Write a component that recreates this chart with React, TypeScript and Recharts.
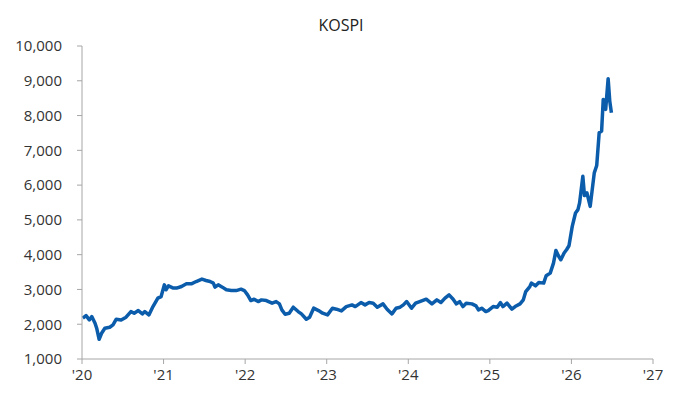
import { LineChart, Line, XAxis, YAxis } from 'recharts';

// time in decimal years, index level
const years = [
  2020.01, 2020.05, 2020.09, 2020.12, 2020.16, 2020.18, 2020.21, 2020.24, 2020.28, 2020.34,
  2020.38, 2020.42, 2020.48, 2020.54, 2020.6, 2020.64, 2020.69, 2020.74, 2020.77, 2020.82,
  2020.87, 2020.93, 2020.97, 2021.01, 2021.03, 2021.06, 2021.12, 2021.16, 2021.22, 2021.28,
  2021.34, 2021.4, 2021.47, 2021.52, 2021.57, 2021.61, 2021.63, 2021.67, 2021.72, 2021.77,
  2021.83, 2021.89, 2021.95, 2021.99, 2022.03, 2022.07, 2022.11, 2022.16, 2022.2, 2022.26,
  2022.33, 2022.38, 2022.42, 2022.45, 2022.49, 2022.54, 2022.59, 2022.65, 2022.69, 2022.75,
  2022.79, 2022.84, 2022.9, 2022.95, 2023.01, 2023.07, 2023.12, 2023.18, 2023.24, 2023.31,
  2023.35, 2023.42, 2023.47, 2023.52, 2023.57, 2023.62, 2023.69, 2023.74, 2023.8, 2023.85,
  2023.9, 2023.94, 2023.98, 2024.04, 2024.09, 2024.14, 2024.22, 2024.29, 2024.35, 2024.4,
  2024.45, 2024.5, 2024.55, 2024.59, 2024.63, 2024.67, 2024.71, 2024.78, 2024.83, 2024.86,
  2024.9, 2024.95, 2024.98, 2025.04, 2025.09, 2025.13, 2025.16, 2025.21, 2025.27, 2025.31,
  2025.37, 2025.41, 2025.44, 2025.49, 2025.51, 2025.56, 2025.6, 2025.66, 2025.69, 2025.74,
  2025.78, 2025.81, 2025.84, 2025.87, 2025.91, 2025.94, 2025.97, 2026.01, 2026.05, 2026.08,
  2026.1, 2026.14, 2026.16, 2026.19, 2026.23, 2026.28, 2026.31, 2026.34, 2026.37, 2026.39,
  2026.42, 2026.45, 2026.47, 2026.49,
];

const kospi = [
  2173, 2248, 2124, 2220, 2030, 1885, 1567, 1740, 1885, 1914,
  1980, 2144, 2124, 2202, 2364, 2317, 2392, 2297, 2364, 2268,
  2507, 2749, 2795, 3133, 2989, 3104, 3038, 3038, 3084, 3162,
  3162, 3228, 3297, 3257, 3228, 3182, 3066, 3133, 3066, 2989,
  2968, 2968, 3009, 2968, 2844, 2680, 2720, 2651, 2700, 2680,
  2605, 2651, 2585, 2412, 2288, 2317, 2490, 2364, 2297, 2144,
  2202, 2461, 2392, 2317, 2268, 2461, 2432, 2383, 2507, 2556,
  2507, 2623, 2556, 2623, 2605, 2490, 2585, 2432, 2297, 2461,
  2490, 2556, 2651, 2460, 2605, 2651, 2720, 2585, 2700, 2623,
  2749, 2844, 2720, 2585, 2651, 2507, 2605, 2585, 2527, 2412,
  2461, 2364, 2392, 2507, 2490, 2623, 2507, 2605, 2432, 2507,
  2585, 2700, 2940, 3084, 3182, 3104, 3200, 3182, 3392, 3470,
  3757, 4122, 3969, 3853, 4046, 4141, 4257, 4813, 5199, 5294,
  5488, 6254, 5700, 5776, 5389, 6351, 6562, 7505, 7552, 8465,
  8177, 9061, 8415, 8080,
];

const xTicks = [2020, 2021, 2022, 2023, 2024, 2025, 2026, 2027];
const yTicks = [1000, 2000, 3000, 4000, 5000, 6000, 7000, 8000, 9000, 10000];

const data = years.map((t, i) => ({ t, kospi: kospi[i] }));

const font = '"Open Sans", "Noto Sans", sans-serif';

export default function App() {
  return (
    <div style={{ position: 'absolute', left: 0, top: 0, width: 678, height: 398, background: '#fff', fontFamily: font }}>
      <div style={{ position: 'absolute', top: 14, left: 2, width: 678, textAlign: 'center', fontSize: 16, color: '#222' }}>
        KOSPI
      </div>
      <LineChart width={678} height={398} data={data} margin={{ top: 46, right: 25, bottom: 9, left: 22 }}>
        <XAxis
          dataKey="t"
          type="number"
          domain={[2020, 2027]}
          ticks={xTicks}
          tickFormatter={(v: number) => "'" + String(v).slice(2)}
          height={30}
          tickSize={5}
          tickMargin={5}
          stroke="#a6a6a6"
          tick={{ fill: '#333', fontSize: 15, fontFamily: font }}
        />
        <YAxis
          domain={[1000, 10000]}
          ticks={yTicks}
          tickFormatter={(v: number) => v.toLocaleString('en-US')}
          width={60}
          tickSize={5}
          tickMargin={15}
          stroke="#a6a6a6"
          tick={{ fill: '#333', fontSize: 15, fontFamily: font }}
          allowDataOverflow
        />
        <Line
          type="linear"
          dataKey="kospi"
          stroke="#0b5cab"
          strokeWidth={3.5}
          strokeLinejoin="round"
          dot={false}
          isAnimationActive={false}
        />
      </LineChart>
    </div>
  );
}
